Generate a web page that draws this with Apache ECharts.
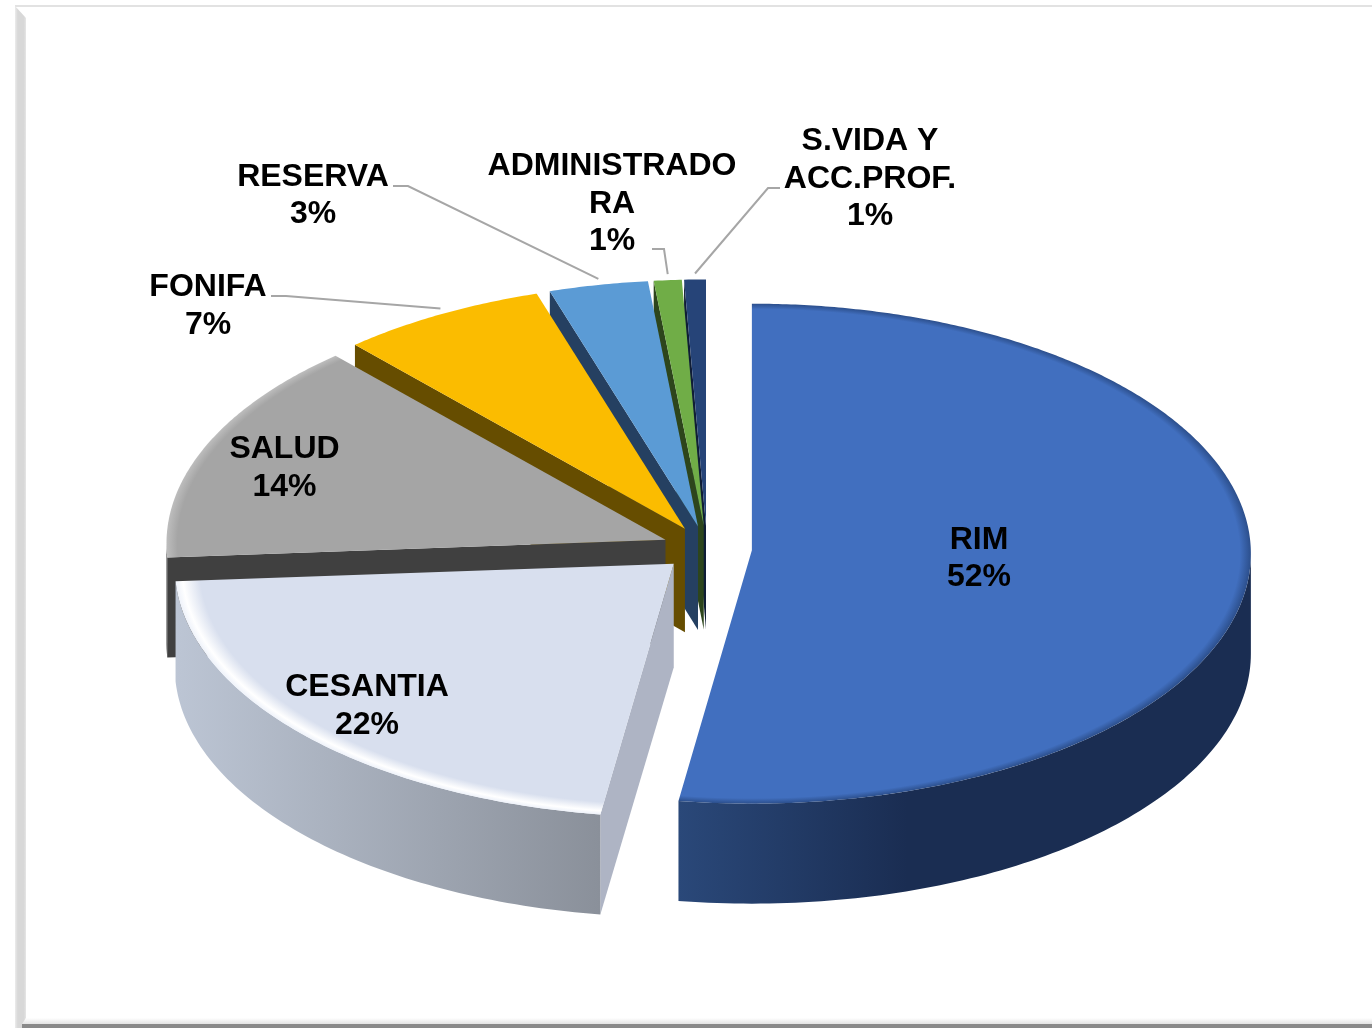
<!DOCTYPE html>
<html lang="es" style="height: 100%">
<head>
    <meta charset="UTF-8">
    <title>Distribucion</title>
    <script src="https://cdn.jsdelivr.net/npm/echarts@6/dist/echarts.min.js"></script>
</head>
<body style="height: 100%; margin: 0; background: #fff">
<div id="main" style="width: 1372px; height: 1028px"></div>
<script>
    // data
    var sliceNames = ['RIM', 'CESANTIA', 'SALUD', 'FONIFA', 'RESERVA', 'ADMINISTRADO\nRA', 'S.VIDA Y\nACC.PROF.'];
    var sliceValues = [52.35, 21.75, 14.4, 6.7, 3.2, 0.9, 0.7];

    // styles
    var topColors = ['#416fbf', '#d8dfee', '#a5a5a5', '#fbbc00', '#5b9bd5', '#70ad47', '#264478'];
    var edgeColors = ['#2c4f8c', '#ffffff', '#bdbdbd', '#fbbc00', '#5b9bd5', '#70ad47', '#264478'];
    var sideColors = ['#1a2d52', '#aeb4c4', '#404040', '#664d00', '#254061', '#2d451c', '#0f1d36'];
    var arcLeftColors = ['#2a4879', '#bcc5d4', '#404040', '#664d00', '#254061', '#2d451c', '#0f1d36'];
    var arcRightColors = ['#1a2d52', '#8a909a', '#404040', '#664d00', '#254061', '#2d451c', '#0f1d36'];

    // layout of the pie on the page
    var centerX = 707, centerY = 552, radiusX = 499, radiusY = 250, depth = 100, explode = 45;
    // perspective: the tip of each slice sits a little above the centre of its ellipse
    var tipLift = 3.5;

    // label block centres, and the elbow of the leader line when there is one
    var labelCenters = [[979, 558.5], [367, 706], [284.5, 468], [208, 306], [313, 195.5], [612, 204], [870, 179]];
    var leaderStarts = [null, null, null, [271, 296], [393, 186], [652, 249], [780, 188]];
    var leaderElbows = [null, null, null, [286, 296], [408, 186], [664, 249], [768, 188]];
    var leaderGap = 6;

    var total = sliceValues.reduce(function (a, b) { return a + b; }, 0);
    var RAD = Math.PI / 180;

    // t is degrees clockwise from 12 o'clock, as a pie is read
    function sliceAngles(idx) {
        var before = 0;
        for (var i = 0; i < idx; i++) {
            before += sliceValues[i];
        }
        return [before / total * 360, (before + sliceValues[idx]) / total * 360];
    }

    function ellipseCenter(t0, t1) {
        var mid = (t0 + t1) / 2 * RAD;
        return [centerX + explode * Math.sin(mid), centerY - explode * radiusY / radiusX * Math.cos(mid)];
    }

    function rimPoint(center, t) {
        return [center[0] + radiusX * Math.sin(t * RAD), center[1] - radiusY * Math.cos(t * RAD)];
    }

    function down(p) {
        return [p[0], p[1] + depth];
    }

    function edgeFace(center, t, color, z2) {
        var tip = [center[0], center[1] - tipLift];
        var rim = rimPoint(center, t);
        return {
            type: 'polygon',
            z2: z2,
            shape: { points: [tip, rim, down(rim), down(center)] },
            style: { fill: color }
        };
    }

    function renderSlice(params, api) {
        var idx = params.dataIndex;
        var angles = sliceAngles(idx);
        var t0 = angles[0], t1 = angles[1];
        var center = ellipseCenter(t0, t1);
        var z2 = (sliceValues.length - idx) * 10;
        var squash = radiusY / radiusX;
        var children = [];

        // cut faces, only those that turn towards the viewer
        if (Math.sin(t0 * RAD) < -0.001) {
            children.push(edgeFace(center, t0, sideColors[idx], z2));
        }
        if (Math.sin(t1 * RAD) > 0.001) {
            children.push(edgeFace(center, t1, sideColors[idx], z2));
        }

        // outer wall, the front half of the ellipse only
        var from = Math.max(t0, 90), to = Math.min(t1, 270);
        if (to > from) {
            var upper = [], lower = [];
            for (var t = from; t < to; t += 1) {
                upper.push(rimPoint(center, t));
            }
            upper.push(rimPoint(center, to));
            for (var k = upper.length - 1; k >= 0; k--) {
                lower.push(down(upper[k]));
            }
            children.push({
                type: 'polygon',
                z2: z2 + 1,
                shape: { points: upper.concat(lower) },
                style: {
                    fill: new echarts.graphic.LinearGradient(0, 0, 1, 0, [
                        { offset: 0, color: arcLeftColors[idx] },
                        { offset: idx === 0 ? 0.4 : 1, color: arcRightColors[idx] },
                        { offset: 1, color: arcRightColors[idx] }
                    ])
                }
            });
        }

        // top face: drawn on a circle then squashed to the ellipse, gradient gives the soft bevel
        var facePoints = [[center[0], center[1] - tipLift / squash]];
        for (var a = t0; a < t1; a += 0.5) {
            facePoints.push([center[0] + radiusX * Math.sin(a * RAD), center[1] - radiusX * Math.cos(a * RAD)]);
        }
        facePoints.push([center[0] + radiusX * Math.sin(t1 * RAD), center[1] - radiusX * Math.cos(t1 * RAD)]);
        children.push({
            type: 'polygon',
            z2: z2 + 2,
            originX: center[0],
            originY: center[1],
            scaleY: squash,
            shape: { points: facePoints },
            style: {
                fill: {
                    type: 'radial',
                    x: center[0],
                    y: center[1],
                    r: radiusX,
                    global: true,
                    colorStops: [
                        { offset: 0, color: topColors[idx] },
                        { offset: idx === 1 ? 0.95 : 0.978, color: topColors[idx] },
                        { offset: idx === 1 ? 0.985 : 1, color: edgeColors[idx] },
                        { offset: 1, color: idx === 1 ? '#eef2fa' : edgeColors[idx] }
                    ]
                }
            }
        });

        // leader line from the label to the middle of the rim
        if (leaderStarts[idx]) {
            var rimEnd = rimPoint(center, (t0 + t1) / 2);
            children.push({
                type: 'polyline',
                z2: 200,
                shape: { points: [leaderStarts[idx], leaderElbows[idx], [rimEnd[0], rimEnd[1] - leaderGap]] },
                style: { fill: null, stroke: '#a6a6a6', lineWidth: 2 }
            });
        }

        children.push({
            type: 'text',
            z2: 300,
            style: {
                text: sliceNames[idx] + '\n' + Math.round(api.value(0) / total * 100) + '%',
                x: labelCenters[idx][0],
                y: labelCenters[idx][1],
                align: 'center',
                verticalAlign: 'middle',
                font: 'bold 32px "Liberation Sans", Arial, sans-serif',
                lineHeight: 37.5,
                fill: '#000'
            }
        });

        return { type: 'group', children: children };
    }

    var chart = echarts.init(document.getElementById('main'));

    var option = {
        backgroundColor: '#fff',
        animation: false,
        // picture frame round the chart
        graphic: [
            { type: 'rect', silent: true, shape: { x: 15, y: 5, width: 1357, height: 2 }, style: { fill: '#e2e2e2' } },
            {
                type: 'polygon', silent: true,
                shape: { points: [[15, 6], [26, 18], [26, 1018], [22, 1028], [15, 1028]] },
                style: {
                    fill: new echarts.graphic.LinearGradient(0, 0, 1, 0, [
                        { offset: 0, color: '#ececec' },
                        { offset: 0.25, color: '#d8d8d8' },
                        { offset: 0.8, color: '#d8d8d8' },
                        { offset: 1, color: '#e6e6e6' }
                    ])
                }
            },
            {
                type: 'polygon', silent: true,
                shape: { points: [[26, 1018], [1372, 1018], [1372, 1024], [22, 1024]] },
                style: {
                    fill: new echarts.graphic.LinearGradient(0, 0, 0, 1, [
                        { offset: 0, color: '#ffffff' },
                        { offset: 1, color: '#e4e4e4' }
                    ])
                }
            },
            { type: 'rect', silent: true, shape: { x: 22, y: 1024, width: 1350, height: 4 }, style: { fill: '#8a8a8a' } }
        ],
        series: [{
            type: 'custom',
            coordinateSystem: 'none',
            silent: true,
            renderItem: renderSlice,
            data: sliceValues
        }]
    };

    chart.setOption(option);
</script>
</body>
</html>
